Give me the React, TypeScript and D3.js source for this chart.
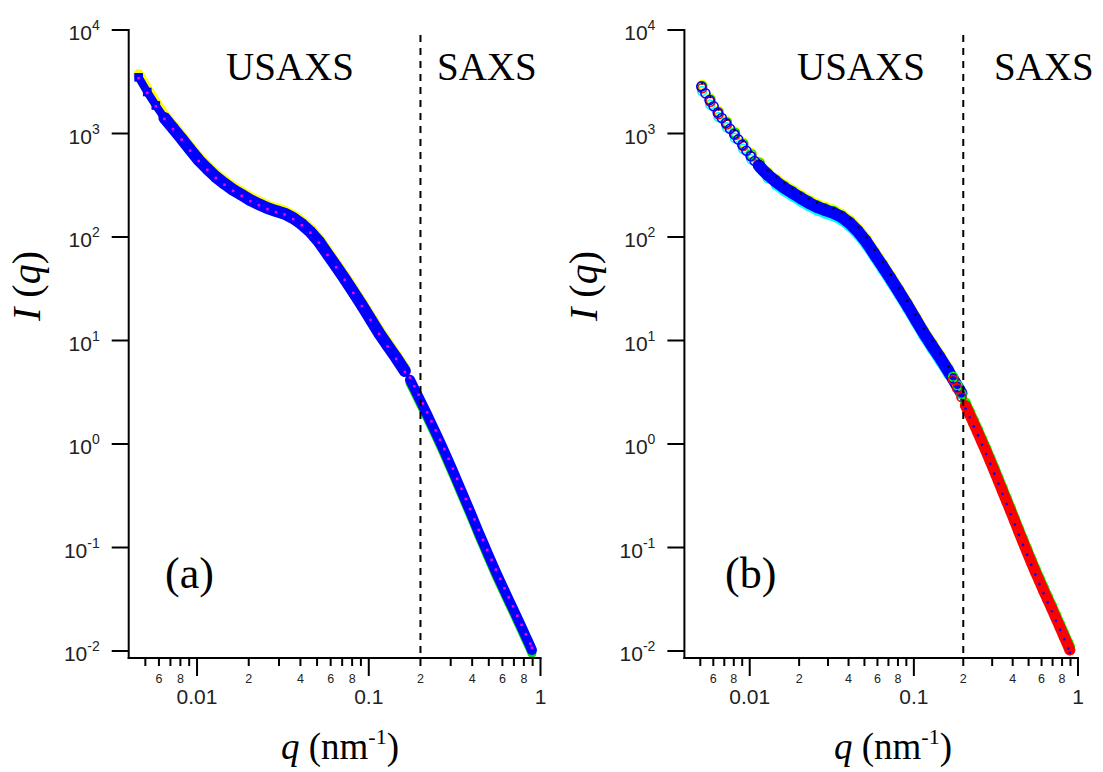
import React from 'react';
import * as d3 from 'd3';

// ---------- data ----------
// Panel (a): USAXS q grid and intensities
const qUsaxs = [0.004571, 0.005129, 0.005754, 0.006457, 0.007244, 0.008128, 0.00912, 0.01023, 0.01148, 0.01288, 0.01445, 0.01622, 0.0182, 0.02042, 0.02291, 0.0257, 0.02884, 0.03236, 0.03631, 0.04074, 0.04571, 0.05129, 0.05754, 0.06457, 0.07244, 0.08128, 0.0912, 0.1023, 0.1148, 0.1288, 0.1445, 0.1622];
const aBlueUsaxs = [3491, 2518, 1866, 1413, 1124, 891, 698, 553, 455, 380, 327, 285, 255, 227, 207, 190, 178, 168, 152, 133, 112, 90, 68.4, 52.0, 39.3, 29.4, 21.9, 16.1, 11.8, 8.93, 6.79, 5.07];
const aYellowUsaxs = [3700, 2670, 1978, 1498, 1191, 944, 740, 586, 482, 403, 347, 302, 270, 241, 219, 201, 189, 178, 161, 141, 119, 95.4, 72.5, 55.1, 41.7, 31.2, 23.2, 17.1, 12.5, 9.47, 7.20, 5.37];
const aMagentaUsaxs = [3421, 2468, 1829, 1385, 1102, 873, 684, 542, 446, 372, 320, 279, 250, 222, 203, 186, 174, 165, 149, 130, 110, 88.2, 67.0, 51.0, 38.5, 28.8, 21.5, 15.8, 11.6, 8.75, 6.65, 4.97];

// SAXS q grid and intensities
const qSaxs = [0.1738, 0.1841, 0.195, 0.2065, 0.2188, 0.2317, 0.2455, 0.26, 0.2754, 0.2917, 0.309, 0.3273, 0.3467, 0.3673, 0.389, 0.4121, 0.4365, 0.4624, 0.4898, 0.5188, 0.5495, 0.5821, 0.6166, 0.6531, 0.6918, 0.7328, 0.7762, 0.8222, 0.871, 0.8913];
const aBlueSaxs = [4.169, 3.447, 2.851, 2.344, 1.928, 1.576, 1.288, 1.047, 0.851, 0.684, 0.55, 0.439, 0.351, 0.28, 0.224, 0.178, 0.141, 0.1129, 0.0902, 0.0724, 0.0582, 0.0473, 0.0385, 0.0314, 0.0257, 0.0209, 0.017, 0.0138, 0.01122, 0.01023];
const aMagentaSaxs = [4.38, 3.62, 2.99, 2.46, 2.02, 1.655, 1.352, 1.099, 0.894, 0.718, 0.578, 0.461, 0.369, 0.294, 0.235, 0.187, 0.148, 0.1185, 0.0947, 0.076, 0.0611, 0.0497, 0.0404, 0.033, 0.027, 0.0219, 0.0179, 0.0145, 0.01178, 0.01074];
const aGreenSaxs = [3.88, 3.21, 2.65, 2.18, 1.79, 1.466, 1.198, 0.974, 0.791, 0.636, 0.512, 0.408, 0.326, 0.26, 0.208, 0.166, 0.131, 0.105, 0.0839, 0.0673, 0.0541, 0.044, 0.0358, 0.0292, 0.0239, 0.0194, 0.0158, 0.0128, 0.01043, 0.00951];

// Panel (b): main blue USAXS series (denser at low q)
const qB = [0.00507, 0.00537, 0.005689, 0.006026, 0.006383, 0.006761, 0.007161, 0.007586, 0.008035, 0.008511, 0.009016, 0.00955, 0.01012, 0.01072, 0.01135, 0.01202, 0.01288, 0.01445, 0.01622, 0.0182, 0.02042, 0.02291, 0.0257, 0.02884, 0.03236, 0.03631, 0.04074, 0.04571, 0.05129, 0.05754, 0.06457, 0.07244, 0.08128, 0.0912, 0.1023, 0.1148, 0.1288, 0.1445, 0.1622, 0.182, 0.195];
const bBlue = [2851, 2449, 2109, 1832, 1592, 1413, 1262, 1112, 989, 877, 776, 682, 607, 542, 492, 444, 398, 342, 299, 267, 238, 214, 195, 182, 171, 156, 136, 113, 90, 68.4, 52.0, 39.3, 29.4, 21.9, 16.1, 11.8, 8.93, 6.79, 5.07, 3.72, 3.09];
// Panel (b): other USAXS series
const qBSec = [0.005129, 0.005754, 0.006457, 0.007244, 0.008128, 0.00912, 0.01023, 0.01148, 0.01288, 0.01445, 0.01622, 0.0182, 0.02042, 0.02291, 0.0257, 0.02884, 0.03236, 0.03631, 0.04074, 0.04571, 0.05129, 0.05754, 0.06457, 0.07244, 0.08128, 0.0912, 0.1023, 0.1148, 0.1288, 0.1445, 0.1622];
const bGreenUsaxs = [2871, 2128, 1611, 1281, 1016, 796, 630, 519, 414, 356, 311, 278, 248, 223, 203, 189, 178, 162, 141, 117, 93.6, 71.1, 54.1, 40.9, 30.6, 22.8, 16.7, 12.3, 9.29, 7.06, 5.27];
const bYellowUsaxs = [2954, 2189, 1657, 1318, 1045, 819, 648, 534, 426, 366, 320, 286, 255, 229, 209, 195, 183, 167, 146, 121, 96.3, 73.2, 55.6, 42.1, 31.5, 23.4, 17.2, 12.6, 9.56, 7.27, 5.42];
const bRedUsaxs = [2733, 2026, 1534, 1220, 967, 757, 600, 494, 394, 339, 296, 264, 236, 212, 193, 180, 169, 154, 135, 112, 89.1, 67.7, 51.5, 38.9, 29.1, 21.7, 15.9, 11.7, 8.84, 6.72, 5.02];
const bBlackUsaxs = [3037, 2251, 1704, 1355, 1075, 842, 667, 549, 438, 376, 329, 294, 262, 235, 215, 200, 188, 172, 150, 124, 99.0, 75.2, 57.2, 43.2, 32.3, 24.1, 17.7, 13.0, 9.82, 7.47, 5.58];
const bCyanUsaxs = [2568, 1903, 1441, 1146, 909, 711, 564, 464, 370, 318, 278, 248, 221, 199, 181, 169, 159, 145, 126, 105, 83.7, 63.6, 48.4, 36.5, 27.3, 20.4, 15.0, 11.0, 8.30, 6.31, 4.72];
// Panel (b): SAXS series
const bRedSaxs = [4.169, 3.447, 2.851, 2.344, 1.928, 1.576, 1.288, 1.047, 0.851, 0.684, 0.55, 0.439, 0.351, 0.28, 0.224, 0.178, 0.141, 0.1129, 0.0902, 0.0724, 0.0582, 0.0473, 0.0385, 0.0314, 0.0257, 0.0209, 0.017, 0.0138, 0.01122, 0.01023];
const bGreenSaxs = [4.46, 3.69, 3.05, 2.51, 2.06, 1.686, 1.378, 1.12, 0.911, 0.732, 0.589, 0.47, 0.376, 0.3, 0.24, 0.19, 0.151, 0.1208, 0.0965, 0.0775, 0.0623, 0.0506, 0.0412, 0.0336, 0.0275, 0.0224, 0.0182, 0.0148, 0.012, 0.01095];
const bBlueSaxs = [3.92, 3.24, 2.68, 2.2, 1.81, 1.481, 1.211, 0.984, 0.8, 0.643, 0.517, 0.413, 0.33, 0.263, 0.211, 0.167, 0.1325, 0.1061, 0.0848, 0.0681, 0.0547, 0.0445, 0.0362, 0.0295, 0.0242, 0.0196, 0.016, 0.013, 0.01055, 0.00962];

// Axis ticks
const yExponents = [-2, -1, 0, 1, 2, 3, 4];
const xMajorTicks = [0.01, 0.1, 1];
const xMajorLabels = ['0.01', '0.1', '1'];
const xMinorTicks = [0.005, 0.006, 0.007, 0.008, 0.009, 0.02, 0.03, 0.04, 0.05, 0.06, 0.07, 0.08, 0.09, 0.2, 0.3, 0.4, 0.5, 0.6, 0.7, 0.8, 0.9];
const xMinorLabelValues = [0.006, 0.008, 0.02, 0.04, 0.06, 0.08, 0.2, 0.4, 0.6, 0.8];
const xMinorLabelText = ['6', '8', '2', '4', '6', '8', '2', '4', '6', '8'];
const boundaryQ = 0.2;

// ---------- layout ----------
const W = 1103;
const H = 772;
const SANS = "'Liberation Sans', Arial, Helvetica, sans-serif";
const SERIF = "'Liberation Serif', 'Times New Roman', Times, serif";
const Y_TOP = 30;
const Y_BOT = 658;

const yScale = d3.scaleLog().domain([Math.pow(10, -2.0676), 1e4]).range([Y_BOT, Y_TOP]);
const xA = d3.scaleLog().domain([0.004, 1]).range([128.7, 540.5]);
const xB = d3.scaleLog().domain([0.004, 1]).range([684.4, 1078]);

type Series = {
  q: number[];
  I: number[];
  color: string;
  marker: 'square' | 'fsquare' | 'circle' | 'dot';
  size: number;
  band?: number;
  bandMin?: number;
};

function SeriesG({ s, xs }: { s: Series; xs: d3.ScaleLogarithmic<number, number> }) {
  const pts: [number, number][] = s.q.map((q, i) => [q, s.I[i]]);
  const line = d3
    .line<[number, number]>()
    .x((d) => xs(d[0]))
    .y((d) => yScale(d[1]));
  const bp = pts.filter((p) => p[0] >= (s.bandMin ?? 0));
  return (
    <g>
      {s.band && bp.length > 1 ? (
        <path d={line(bp) || ''} fill="none" stroke={s.color} strokeWidth={s.band} strokeLinecap="round" strokeLinejoin="round" />
      ) : null}
      {pts.map((p, i) => {
        const cx = xs(p[0]);
        const cy = yScale(p[1]);
        if (s.marker === 'circle')
          return <circle key={i} cx={cx} cy={cy} r={s.size} fill="none" stroke={s.color} strokeWidth={1.6} />;
        if (s.marker === 'dot') return <circle key={i} cx={cx} cy={cy} r={s.size} fill={s.color} />;
        if (s.marker === 'fsquare')
          return <rect key={i} x={cx - s.size / 2} y={cy - s.size / 2} width={s.size} height={s.size} fill={s.color} />;
        return (
          <rect key={i} x={cx - s.size / 2} y={cy - s.size / 2} width={s.size} height={s.size} fill="none" stroke={s.color} strokeWidth={1.6} />
        );
      })}
    </g>
  );
}

function Axes({ xs, yTitleX, xTitleX, tag, tagX, usaxsX, saxsX }: any) {
  const x0 = xs.range()[0];
  const x1 = xs.range()[1];
  const xb = xs(boundaryQ);
  return (
    <g>
      <line x1={xb} x2={xb} y1={35} y2={Y_BOT} stroke="#000" strokeWidth={2} strokeDasharray="7,6" />
      <line x1={x0} x2={x0} y1={Y_TOP - 1} y2={Y_BOT + 1} stroke="#000" strokeWidth={2} />
      <line x1={x0 - 1} x2={x1 + 1} y1={Y_BOT} y2={Y_BOT} stroke="#000" strokeWidth={2} />
      {yExponents.map((e) => {
        const yy = yScale(Math.pow(10, e));
        return (
          <g key={e}>
            <line x1={x0 - 17} x2={x0} y1={yy} y2={yy} stroke="#000" strokeWidth={2} />
            <text x={x0 - 29} y={yy + 10} textAnchor="end" fontSize={21} fontFamily={SANS} fill="#222">
              10<tspan fontSize={14} dy={-10}>{String(e)}</tspan>
            </text>
          </g>
        );
      })}
      {xMajorTicks.map((t, i) => (
        <g key={'M' + t}>
          <line x1={xs(t)} x2={xs(t)} y1={Y_BOT} y2={Y_BOT + 18} stroke="#000" strokeWidth={2} />
          <text x={xs(t)} y={704} textAnchor="middle" fontSize={21} fontFamily={SANS} fill="#222">
            {xMajorLabels[i]}
          </text>
        </g>
      ))}
      {xMinorTicks.map((t) => (
        <line key={'m' + t} x1={xs(t)} x2={xs(t)} y1={Y_BOT} y2={Y_BOT + 8} stroke="#000" strokeWidth={2} />
      ))}
      {xMinorLabelValues.map((t, i) => (
        <text key={'l' + i} x={xs(t)} y={683} textAnchor="middle" fontSize={12.5} fontFamily={SANS} fill="#222">
          {xMinorLabelText[i]}
        </text>
      ))}
      <text transform={`translate(${yTitleX},286) rotate(-90)`} textAnchor="middle" fontSize={40} fontFamily={SERIF} fill="#000">
        <tspan fontStyle="italic">I</tspan> (<tspan fontStyle="italic">q</tspan>)
      </text>
      <text x={xTitleX} y={759} textAnchor="middle" fontSize={37} fontFamily={SERIF} fill="#000">
        <tspan fontStyle="italic">q</tspan> (nm<tspan fontSize={22} dy={-15}>-1</tspan>
        <tspan dy={15}>)</tspan>
      </text>
      <text x={usaxsX} y={80} fontSize={39} fontFamily={SERIF} fill="#000">USAXS</text>
      <text x={saxsX} y={80} fontSize={39} fontFamily={SERIF} fill="#000">SAXS</text>
      <text x={tagX} y={588} fontSize={44} fontFamily={SERIF} fill="#000">{tag}</text>
    </g>
  );
}

const panelASeries: Series[] = [
  { q: qUsaxs, I: aYellowUsaxs, color: '#ffff00', marker: 'square', size: 6, band: 11, bandMin: 0 },
  { q: qSaxs, I: aGreenSaxs, color: '#00e000', marker: 'fsquare', size: 4, band: 9 },
  { q: qUsaxs, I: aBlueUsaxs, color: '#0000ff', marker: 'square', size: 7, band: 12, bandMin: 0.0062 },
  { q: qUsaxs.slice(0, 6), I: aBlueUsaxs.slice(0, 6), color: '#0000ff', marker: 'square', size: 6, band: 8 },
  { q: qSaxs, I: aBlueSaxs, color: '#0000ff', marker: 'fsquare', size: 5, band: 10 },
  { q: qUsaxs, I: aMagentaUsaxs, color: '#ff00ff', marker: 'fsquare', size: 2.5 },
  { q: qSaxs, I: aMagentaSaxs, color: '#ff00ff', marker: 'fsquare', size: 2.5 },
];

const panelBSeries: Series[] = [
  { q: qBSec, I: bYellowUsaxs, color: '#ffff00', marker: 'circle', size: 4.5, band: 10, bandMin: 0.0144 },
  { q: qBSec, I: bCyanUsaxs, color: '#00ffff', marker: 'circle', size: 4.5, band: 10, bandMin: 0.0144 },
  { q: qBSec, I: bGreenUsaxs, color: '#00e000', marker: 'circle', size: 4.5 },
  { q: qBSec, I: bRedUsaxs, color: '#ff0000', marker: 'circle', size: 4.5 },
  { q: qB, I: bBlue, color: '#0000ff', marker: 'circle', size: 4.5, band: 12, bandMin: 0.0112 },
  { q: qBSec, I: bBlackUsaxs, color: '#000000', marker: 'dot', size: 1.1 },
  { q: qSaxs, I: bGreenSaxs, color: '#00ff00', marker: 'circle', size: 4.5, band: 10, bandMin: 0.2 },
  { q: qSaxs, I: bRedSaxs, color: '#ff0000', marker: 'circle', size: 4.5, band: 11, bandMin: 0.2 },
  { q: qSaxs, I: bBlueSaxs, color: '#0000ff', marker: 'dot', size: 1.3 },
];

export default function App() {
  return (
    <svg
      width={W}
      height={H}
      viewBox={`0 0 ${W} ${H}`}
      style={{ position: 'absolute', left: 0, top: 0, background: '#fff' }}
    >
      <rect x={0} y={0} width={W} height={H} fill="#fff" />
      <g>
        {panelASeries.map((s, i) => (
          <SeriesG key={i} s={s} xs={xA} />
        ))}
      </g>
      <Axes xs={xA} yTitleX={40} xTitleX={340} tag="(a)" tagX={165} usaxsX={226} saxsX={437} />
      <g>
        {panelBSeries.map((s, i) => (
          <SeriesG key={i} s={s} xs={xB} />
        ))}
      </g>
      <Axes xs={xB} yTitleX={597} xTitleX={893} tag="(b)" tagX={725} usaxsX={797} saxsX={994} />
    </svg>
  );
}
